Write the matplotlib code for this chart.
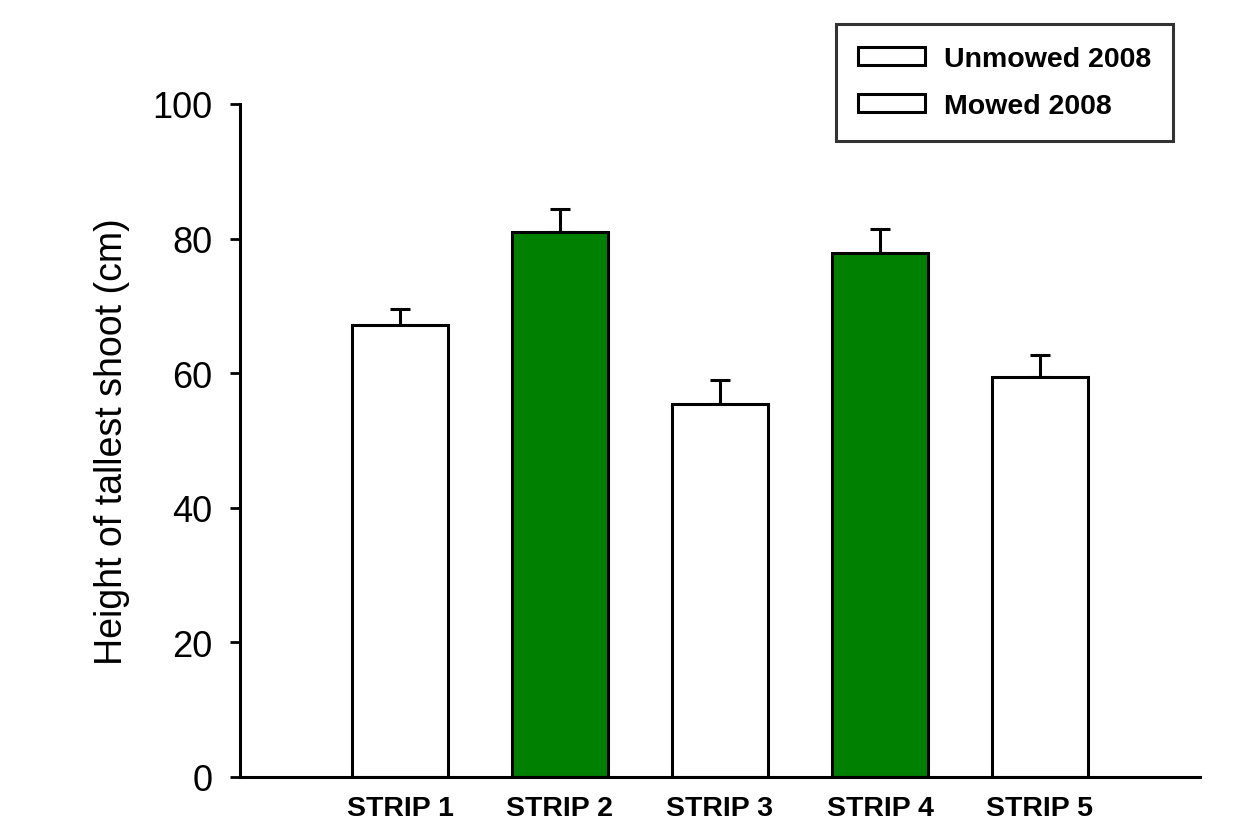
import matplotlib
matplotlib.use("Agg")
import matplotlib.pyplot as plt
from matplotlib.patches import Patch

plt.rcParams['font.family'] = ['Liberation Sans', 'DejaVu Sans']

categories = ["STRIP 1", "STRIP 2", "STRIP 3", "STRIP 4", "STRIP 5"]
heights = [67.2, 81.0, 55.4, 77.9, 59.4]
errors = [2.3, 3.4, 3.6, 3.5, 3.3]
colors = ["white", "#008000", "white", "#008000", "white"]
legend_labels = ["Unmowed 2008", "Mowed 2008"]
yticks = [0, 20, 40, 60, 80, 100]

fig = plt.figure(figsize=(12.44, 8.28), dpi=100)
ax = fig.add_axes([240/1244, 50/828, 960/1244, 673/828])

x = list(range(1, len(categories) + 1))
ax.bar(x, heights, width=0.6, color=colors, edgecolor='black', linewidth=2.2, zorder=2)
ax.errorbar(x, heights, yerr=[[0]*len(errors), errors], fmt='none', ecolor='black',
            elinewidth=2.2, capsize=7, capthick=2.2, zorder=1)

ax.set_xlim(0, 6)
ax.set_ylim(0, 100)
ax.set_yticks(yticks)
ax.set_xticks(x)
ax.set_xticklabels(categories, fontsize=20.5, fontweight='bold')
ax.tick_params(axis='x', length=0, pad=13)
ax.tick_params(axis='y', length=7, width=2, labelsize=26, pad=13)
ax.set_ylabel("Height of tallest shoot (cm)", fontsize=27, labelpad=16)

for s in ['top', 'right']:
    ax.spines[s].set_visible(False)
for s in ['left', 'bottom']:
    ax.spines[s].set_linewidth(2.2)

handles = [Patch(facecolor='white', edgecolor='black', linewidth=2.2) for _ in legend_labels]
leg = fig.legend(handles, legend_labels, loc='upper right',
                 bbox_to_anchor=(1173/1244, (828-25)/828),
                 prop={'weight': 'bold', 'size': 20.5}, frameon=True, fancybox=False,
                 edgecolor='black', handlelength=2.35, handleheight=0.6,
                 handletextpad=0.65, labelspacing=0.72, borderpad=0.78, borderaxespad=0)
leg.get_frame().set_linewidth(2.2)

fig.savefig("out.png", dpi=100)
